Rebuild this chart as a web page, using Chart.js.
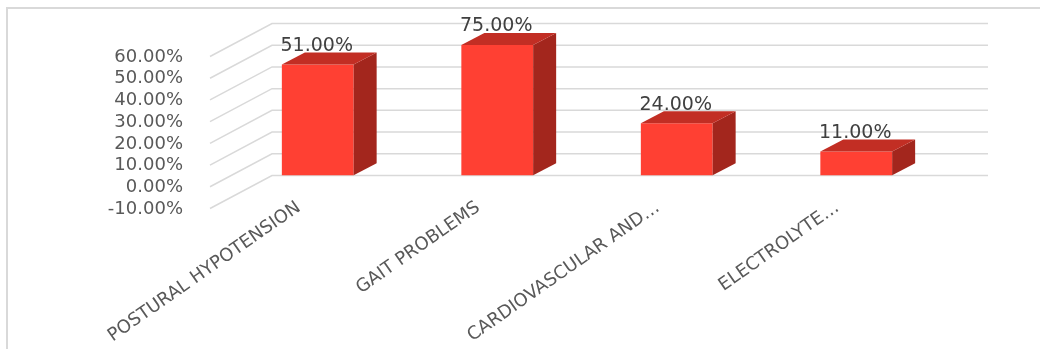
<!DOCTYPE html>
<html>
<head>
<meta charset="utf-8">
<script src="https://cdn.jsdelivr.net/npm/chart.js@4/dist/chart.umd.min.js"></script>
<style>
  html, body { margin: 0; padding: 0; background: #ffffff; }
  .chart-box { position: relative; width: 1040px; height: 349px; }
</style>
</head>
<body>
<div class="chart-box"><canvas id="risk-chart"></canvas></div>
<script>
// data
const categories = ['POSTURAL HYPOTENSION', 'GAIT PROBLEMS', 'CARDIOVASCULAR AND\u2026', 'ELECTROLYTE\u2026'];
const percentValues = [51, 75, 24, 11];
const axisMin = -10;
const axisMax = 60;
const axisStep = 10;

const fmtPct = v => Number(v).toFixed(2) + '%';

// frame of the chart (only left and top edges are visible)
const framePlugin = {
  id: 'frame',
  beforeDraw(chart) {
    const c = chart.ctx;
    c.save();
    c.strokeStyle = '#d9d9d9';
    c.lineWidth = 2;
    c.beginPath();
    c.moveTo(7, 349);
    c.lineTo(7, 8);
    c.lineTo(1040, 8);
    c.stroke();
    c.restore();
  }
};

// back wall grid with slanted side wall lines
const wallGrid = {
  id: 'wallGrid',
  beforeDatasetsDraw(chart) {
    const c = chart.ctx;
    const y = chart.scales.y;
    const area = chart.chartArea;
    c.save();
    c.strokeStyle = '#d9d9d9';
    c.lineWidth = 1.5;
    y.ticks.forEach(t => {
      const py = y.getPixelForValue(t.value);
      c.beginPath();
      c.moveTo(area.left - 18, py + 11.5);
      c.lineTo(area.left + 44, py - 21.5);
      c.lineTo(area.right + 42, py - 21.5);
      c.stroke();
    });
    c.restore();
  }
};

// side and top faces of the bars + value labels
const bar3d = {
  id: 'bar3d',
  afterDatasetsDraw(chart) {
    const c = chart.ctx;
    const area = chart.chartArea;
    const dx = 23, dy = 12;
    const meta = chart.getDatasetMeta(0);
    c.save();
    meta.data.forEach((bar, i) => {
      const p = bar.getProps(['x', 'y', 'base', 'width'], true);
      const left = p.x - p.width / 2;
      const right = p.x + p.width / 2;
      const top = Math.max(p.y, area.top);
      const bottom = p.base;
      // side
      c.fillStyle = '#a3261d';
      c.beginPath();
      c.moveTo(right, top);
      c.lineTo(right + dx, top - dy);
      c.lineTo(right + dx, bottom - dy);
      c.lineTo(right, bottom);
      c.closePath();
      c.fill();
      // top
      c.fillStyle = '#c22e24';
      c.beginPath();
      c.moveTo(left, top);
      c.lineTo(left + dx, top - dy);
      c.lineTo(right + dx, top - dy);
      c.lineTo(right, top);
      c.closePath();
      c.fill();
      // label
      c.fillStyle = '#404040';
      c.font = '19px "DejaVu Sans"';
      c.textAlign = 'center';
      c.textBaseline = 'bottom';
      c.fillText(fmtPct(percentValues[i]), p.x - 1, top - dy + 3);
    });
    c.restore();
  }
};

const ctx = document.getElementById('risk-chart').getContext('2d');
new Chart(ctx, {
  type: 'bar',
  data: {
    labels: categories,
    datasets: [{
      data: percentValues,
      backgroundColor: '#ff4033',
      borderWidth: 0,
      barPercentage: 0.4,
      categoryPercentage: 1.0
    }]
  },
  options: {
    responsive: true,
    maintainAspectRatio: false,
    animation: false,
    layout: { padding: { left: 0, right: 94, top: 45, bottom: 0 } },
    plugins: {
      legend: { display: false },
      tooltip: { enabled: false }
    },
    scales: {
      x: {
        grid: { display: false, drawTicks: false },
        border: { display: false },
        ticks: {
          color: '#595959',
          font: { family: 'DejaVu Sans', size: 18 },
          minRotation: 35,
          maxRotation: 35,
          autoSkip: false,
          padding: 0,
          labelOffset: -19
        },
        afterFit(scale) { scale.height = 152; }
      },
      y: {
        min: axisMin,
        max: axisMax,
        // tick marks stay hidden, their length only pushes the labels left
        grid: { display: false, drawTicks: true, tickLength: 40 },
        border: { display: false },
        ticks: {
          stepSize: axisStep,
          autoSkip: false,
          color: '#595959',
          font: { family: 'DejaVu Sans', size: 18 },
          padding: 5,
          labelOffset: 12,
          callback: v => fmtPct(v)
        },
        afterFit(scale) { scale.width = 228; }
      }
    }
  },
  plugins: [framePlugin, wallGrid, bar3d]
});
</script>
</body>
</html>
